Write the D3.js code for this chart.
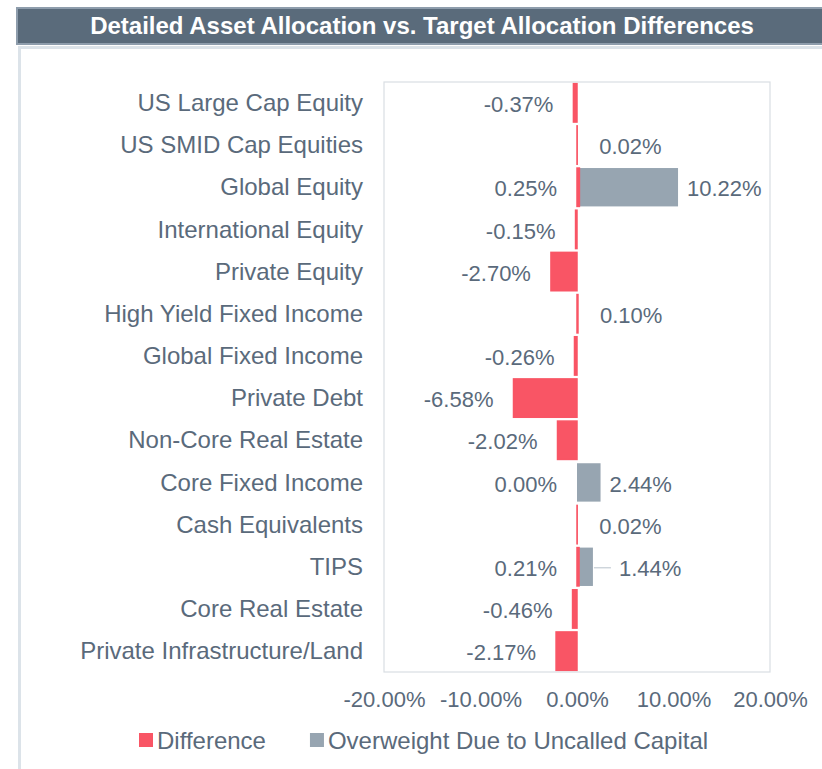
<!DOCTYPE html>
<html>
<head>
<meta charset="utf-8">
<script src="https://cdn.jsdelivr.net/npm/d3@7"></script>
<style>
  body { margin: 0; background: #fff; }
  svg { display: block; font-family: "Liberation Sans", Arial, sans-serif; }
</style>
</head>
<body>
<svg id="chart" width="822" height="769"></svg>
<script>
const categories = [
  "US Large Cap Equity", "US SMID Cap Equities", "Global Equity", "International Equity",
  "Private Equity", "High Yield Fixed Income", "Global Fixed Income", "Private Debt",
  "Non-Core Real Estate", "Core Fixed Income", "Cash Equivalents", "TIPS",
  "Core Real Estate", "Private Infrastructure/Land"
];
const difference = [-0.37, 0.02, 0.25, -0.15, -2.70, 0.10, -0.26, -6.58, -2.02, 0.00, 0.02, 0.21, -0.46, -2.17];
const overweight = [0, 0, 10.22, 0, 0, 0, 0, 0, 0, 2.44, 0, 1.44, 0, 0];
const xTicks = [-20, -10, 0, 10, 20];
const seriesNames = ["Difference", "Overweight Due to Uncalled Capital"];

const red = "#f95565", grey = "#97a5b1", textCol = "#5a6a7b";
const svg = d3.select("#chart");

// header bar + panel frame
svg.append("rect").attr("x", 17).attr("y", 8).attr("width", 810).attr("height", 36)
  .attr("fill", "#5a6b7b").attr("stroke", "#8e9dac").attr("stroke-width", 2);
svg.append("text").attr("x", 422).attr("y", 34).attr("text-anchor", "middle")
  .attr("fill", "#fff").style("font-weight", "bold").style("font-size", "24px")
  .text("Detailed Asset Allocation vs. Target Allocation Differences");
svg.append("path").attr("d", "M19.5,769 V47.5 H822")
  .attr("fill", "none").attr("stroke", "#dce3e9").attr("stroke-width", 3);

const data = categories.map((c, i) => ({ cat: c, diff: difference[i], over: overweight[i] }));

const m = { left: 384, right: 770, top: 82, bottom: 672 };
const x = d3.scaleLinear().domain([-20, 20]).range([m.left, m.right]);
const y = d3.scaleBand().domain(categories).range([m.top, m.bottom])
  .paddingInner(0.09).paddingOuter(0.04);

svg.append("rect").attr("x", m.left).attr("y", m.top)
  .attr("width", m.right - m.left).attr("height", m.bottom - m.top)
  .attr("fill", "none").attr("stroke", "#d9dee3").attr("stroke-width", 1.2);

// overweight (stacked on top of positive difference)
svg.append("g").selectAll("rect")
  .data(data.filter(d => d.over > 0))
  .join("rect")
  .attr("x", d => x(Math.max(0, d.diff)))
  .attr("width", d => x(Math.max(0, d.diff) + d.over) - x(Math.max(0, d.diff)))
  .attr("y", d => y(d.cat))
  .attr("height", y.bandwidth())
  .attr("fill", grey);

// difference
svg.append("g").selectAll("rect")
  .data(data.filter(d => d.diff !== 0))
  .join("rect")
  .attr("x", d => x(Math.min(0, d.diff)))
  .attr("width", d => Math.abs(x(d.diff) - x(0)))
  .attr("y", d => y(d.cat))
  .attr("height", y.bandwidth())
  .attr("fill", red).attr("stroke", red).attr("stroke-width", 1.5);

const fmt = v => v.toFixed(2) + "%";
const mid = d => y(d.cat) + y.bandwidth() / 2;

// difference labels
svg.append("g").selectAll("text")
  .data(data)
  .join("text")
  .attr("x", d => (d.diff < 0 || d.over > 0) ? x(Math.min(0, d.diff)) - 20 : x(d.diff) + 22)
  .attr("y", d => mid(d))
  .attr("dy", "0.42em")
  .attr("text-anchor", d => (d.diff < 0 || d.over > 0) ? "end" : "start")
  .attr("fill", textCol).style("font-size", "22px")
  .text(d => fmt(d.diff));

// overweight labels (short bars get a leader line)
const ow = data.filter(d => d.over > 0).map(d => {
  const end = x(Math.max(0, d.diff) + d.over);
  const short = end - x(Math.max(0, d.diff)) < 18;
  return { ...d, end, short, lx: short ? end + 26 : end + 9 };
});
svg.append("g").selectAll("line")
  .data(ow.filter(d => d.short))
  .join("line")
  .attr("x1", d => d.end + 1).attr("x2", d => d.end + 18)
  .attr("y1", d => mid(d) + 1).attr("y2", d => mid(d) + 1)
  .attr("stroke", "#c4ccd4").attr("stroke-width", 1.2);
svg.append("g").selectAll("text")
  .data(ow)
  .join("text")
  .attr("x", d => d.lx)
  .attr("y", d => mid(d))
  .attr("dy", "0.42em")
  .attr("fill", textCol).style("font-size", "22px")
  .text(d => fmt(d.over));

// category axis
const yAxis = svg.append("g").attr("transform", `translate(${m.left - 21},0)`)
  .call(d3.axisLeft(y).tickSize(0).tickPadding(0));
yAxis.select(".domain").remove();
yAxis.selectAll("text").attr("fill", textCol).style("font-size", "24px")
  .style("font-family", "inherit").attr("dy", "0.34em");

// value axis
const xAxis = svg.append("g").attr("transform", `translate(0,${m.bottom})`)
  .call(d3.axisBottom(x).tickValues(xTicks).tickSize(0).tickPadding(19)
    .tickFormat(v => v.toFixed(2) + "%"));
xAxis.select(".domain").remove();
xAxis.selectAll("text").attr("fill", textCol).style("font-size", "22px")
  .style("font-family", "inherit");

// legend
const legend = svg.append("g").attr("transform", "translate(139,733)");
let lx = 0;
seriesNames.forEach((name, i) => {
  const g = legend.append("g").attr("transform", `translate(${lx},0)`);
  g.append("rect").attr("width", 14).attr("height", 14).attr("fill", i === 0 ? red : grey);
  const t = g.append("text").attr("x", 18).attr("y", 7).attr("dy", "0.36em")
    .attr("fill", textCol).style("font-size", "24px").text(name);
  lx += 18 + t.node().getComputedTextLength() + 44;
});
</script>
</body>
</html>
